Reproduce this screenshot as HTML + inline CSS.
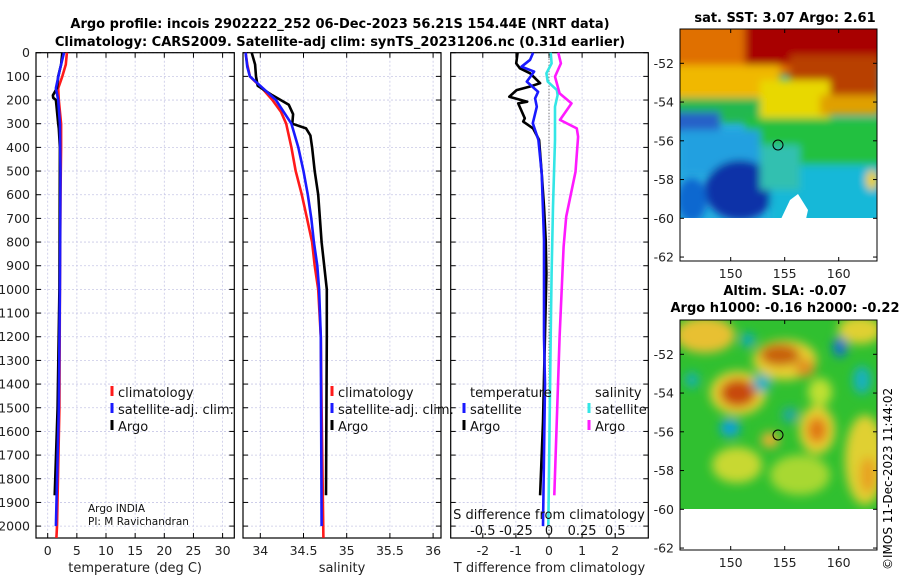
<!DOCTYPE html>
<html><head><meta charset="utf-8">
<style>
html,body{margin:0;padding:0;background:#fff;}
svg{display:block;font-family:"DejaVu Sans","Liberation Sans",sans-serif;}
</style></head>
<body>
<svg id="fig" width="900" height="580" viewBox="0 0 900 580" xmlns="http://www.w3.org/2000/svg">
<text x="340" y="28" font-size="13" font-weight="bold" text-anchor="middle">Argo profile: incois 2902222_252 06-Dec-2023 56.21S 154.44E (NRT data)</text>
<text x="340" y="46" font-size="13" font-weight="bold" text-anchor="middle">Climatology: CARS2009. Satellite-adj clim: synTS_20231206.nc (0.31d earlier)</text>
<g id="plots"></g>
<g id="maps">
 <text x="785" y="22" font-size="13" font-weight="bold" text-anchor="middle">sat. SST: 3.07 Argo: 2.61</text>
 <defs>
  <clipPath id="c1"><rect x="680" y="29" width="197" height="190"/></clipPath>
  <clipPath id="c2"><rect x="680" y="320" width="197" height="190"/></clipPath>
  <filter id="bl" x="-30%" y="-30%" width="160%" height="160%"><feGaussianBlur stdDeviation="5"/></filter>
  <filter id="bl2" x="-20%" y="-20%" width="140%" height="140%"><feGaussianBlur stdDeviation="4"/></filter>
 </defs>
 <g clip-path="url(#c1)">
  <rect x="680" y="29" width="197" height="190" fill="#28b0e0"/>
  <g filter="url(#bl2)">
   <rect x="670" y="20" width="210" height="55" fill="#e07000"/>
   <rect x="745" y="20" width="140" height="45" fill="#a80000"/>
   <rect x="790" y="55" width="90" height="45" fill="#b84000"/>
   <rect x="670" y="65" width="110" height="35" fill="#f0b800"/>
   <rect x="760" y="80" width="70" height="45" fill="#e8d800"/>
   <rect x="820" y="95" width="60" height="20" fill="#e0a000"/>
   <rect x="670" y="98" width="90" height="25" fill="#20b850"/>
   <rect x="745" y="118" width="140" height="50" fill="#22c040"/>
   <rect x="670" y="112" width="50" height="20" fill="#2860c8"/>
   <rect x="680" y="130" width="80" height="45" fill="#20a0e0"/>
   <ellipse cx="740" cy="190" rx="35" ry="30" fill="#0830a8"/>
   <ellipse cx="692" cy="200" rx="15" ry="22" fill="#1068d0"/>
   <rect x="770" y="165" width="110" height="60" fill="#18b8d8"/>
   <rect x="760" y="145" width="40" height="45" fill="#30c0b0"/>
   <ellipse cx="872" cy="180" rx="6" ry="10" fill="#f0d000"/>
  </g>
  <rect x="680" y="218" width="200" height="50" fill="#fff"/>
  <polygon points="781,219 790,200 798,194 808,210 806,219" fill="#fff"/>
  <circle cx="778" cy="145" r="5" fill="none" stroke="#000" stroke-width="1"/>
 </g>
 <rect x="680" y="29" width="197" height="232" fill="none" stroke="#000"/>
 <text x="785" y="295" font-size="13" font-weight="bold" text-anchor="middle">Altim. SLA: -0.07</text>
 <text x="785" y="312" font-size="13" font-weight="bold" text-anchor="middle">Argo h1000: -0.16 h2000: -0.22</text>
 <g clip-path="url(#c2)">
  <rect x="680" y="320" width="197" height="190" fill="#30c030"/>
  <g filter="url(#bl)">
   <ellipse cx="705" cy="335" rx="30" ry="18" fill="#e8c030"/>
   <ellipse cx="860" cy="330" rx="22" ry="14" fill="#e0d030"/>
   <ellipse cx="738" cy="393" rx="28" ry="22" fill="#e8d030"/>
   <ellipse cx="785" cy="360" rx="32" ry="20" fill="#e8d030"/>
   <ellipse cx="817" cy="430" rx="18" ry="24" fill="#e8d030"/>
   <ellipse cx="865" cy="460" rx="20" ry="45" fill="#e0d030"/>
   <ellipse cx="737" cy="465" rx="25" ry="18" fill="#c8d830"/>
   <ellipse cx="800" cy="475" rx="30" ry="20" fill="#a8d830"/>
   <ellipse cx="738" cy="393" rx="18" ry="14" fill="#c84810"/>
   <ellipse cx="780" cy="355" rx="20" ry="11" fill="#c86010"/>
   <ellipse cx="805" cy="368" rx="10" ry="9" fill="#e09020"/>
   <ellipse cx="817" cy="430" rx="10" ry="13" fill="#e07818"/>
   <ellipse cx="868" cy="475" rx="8" ry="18" fill="#e8a020"/>
   <ellipse cx="770" cy="440" rx="9" ry="8" fill="#e8b030"/>
   <ellipse cx="820" cy="392" rx="12" ry="14" fill="#c0e030"/>
   <ellipse cx="840" cy="347" rx="7" ry="10" fill="#1070d0"/>
   <ellipse cx="730" cy="428" rx="10" ry="9" fill="#10a0d8"/>
   <ellipse cx="762" cy="383" rx="9" ry="9" fill="#18b0c8"/>
   <ellipse cx="862" cy="380" rx="9" ry="14" fill="#18b0c0"/>
   <ellipse cx="692" cy="380" rx="7" ry="8" fill="#18b0b0"/>
   <ellipse cx="790" cy="415" rx="8" ry="8" fill="#20a8a0"/>
   <ellipse cx="748" cy="340" rx="7" ry="7" fill="#10a8c0"/>
  </g>
  <rect x="680" y="509" width="200" height="50" fill="#fff"/>
  <circle cx="778" cy="435" r="5" fill="none" stroke="#000" stroke-width="1"/>
 </g>
 <rect x="680" y="320" width="197" height="230" fill="none" stroke="#000"/>
 <text transform="translate(892,570) rotate(-90)" font-size="12">©IMOS 11-Dec-2023 11:44:02</text>
 <g id="mapaxes"></g>
</g>
</svg>
<script>
// depth levels & series values
const tDepth = [0,50,100,150,200,300,400,600,1000,1500,2000,2050];
const tClim = [3.3,3.1,2.5,1.8,1.9,2.3,2.3,2.2,2.1,2.0,1.6,1.5];
const satDepth = [0,80,150,200,300,500,1000,1500,2000];
const tSat = [2.8,2.0,1.4,1.8,2.1,2.2,2.1,1.9,1.4];
const argoDepth = [0,50,100,150,180,190,200,300,320,400,1000,1500,1870];
const tArgo = [2.5,2.3,1.8,1.6,0.9,0.95,1.4,1.8,1.9,2.1,2.0,1.7,1.2];

const sClimDepth = [0,50,100,150,200,250,300,400,500,600,700,800,900,1000,1200,1500,2050];
const sClim = [33.83,33.85,33.88,34.02,34.14,34.24,34.30,34.36,34.41,34.48,34.54,34.60,34.63,34.67,34.70,34.71,34.73];
const sSatDepth = [0,60,100,150,200,300,400,500,600,700,800,900,1000,1200,2000];
const sSat = [33.83,33.85,33.88,34.03,34.18,34.36,34.44,34.50,34.55,34.59,34.62,34.66,34.68,34.70,34.71];
const sArgoDepth = [0,50,100,140,180,220,260,300,320,350,400,500,600,700,800,900,1000,1200,1870];
const sArgo = [33.90,33.94,33.95,33.97,34.14,34.33,34.38,34.37,34.53,34.58,34.60,34.63,34.67,34.69,34.71,34.74,34.77,34.77,34.76];

const dTArgoDepth = [0,45,66,87,129,143,158,186,207,214,277,291,320,369,510,650,790,932,1560,1870];
const dTArgo = [-0.95,-0.99,-0.88,-0.57,-0.27,-0.57,-0.98,-1.2,-0.66,-0.93,-0.73,-0.78,-0.48,-0.30,-0.22,-0.15,-0.10,-0.08,-0.18,-0.27];
const dTSatDepth = [0,30,59,80,122,165,193,228,298,369,510,790,1200,1400,2000];
const dTSat = [-0.48,-0.57,-0.83,-0.45,-0.67,-0.33,-0.42,-0.37,-0.49,-0.32,-0.22,-0.15,-0.15,-0.12,-0.18];
const dSSatDepth = [0,45,87,122,158,179,228,369,650,932,1200,2000];
const dSSat = [0.013,0.02,-0.02,-0.01,0.06,0.065,0.045,0.045,0.03,0.02,0.013,-0.005];
const dSArgoDepth = [0,45,101,172,214,284,320,355,503,693,820,1200,1870];
const dSArgo = [0.07,0.09,0.045,0.08,0.17,0.083,0.21,0.22,0.20,0.13,0.11,0.08,0.04];

const depthTicks = [0,100,200,300,400,500,600,700,800,900,1000,1100,1200,1300,1400,1500,1600,1700,1800,1900,2000];
const tTicks = [0,5,10,15,20,25,30];
const sTicks = [34,34.5,35,35.5,36];
const dTTicks = [-2,-1,0,1,2];
const dSTicks = [-0.5,-0.25,0,0.25,0.5];
const dSTickLabels = ['-0.5','-0.25','0','0.25','0.5'];
const latTicks = [-52,-54,-56,-58,-60,-62];
const lonTicks = [150,155,160];

const NS='http://www.w3.org/2000/svg';
function mk(tag, attrs, parent){const e=document.createElementNS(NS,tag);for(const k in attrs)e.setAttribute(k,attrs[k]);(parent||document.getElementById('plots')).appendChild(e);return e;}
const Y0=52.7, YTOP=52.7, YBOT=538;
function yScale(d){return Y0 + d*0.2367;}
const P1={x0:36,x1:234.3,f:v=>47.7+5.83*v};
const P2={x0:243,x1:441,f:v=>260.3+86.4*(v-34)};
const P3={x0:450.7,x1:648.3,f:v=>549+33.1*v};
const fS3=v=>549+132.4*v;

function panel(P,name,ticks,xlabel,labels){
  const g=mk('g',{});
  
  
  depthTicks.forEach(d=>{const y=yScale(d);
    const l=mk('line',{x1:P.x0,x2:P.x1,y1:y,y2:y,stroke:'#c8c8e6','stroke-width':0.8,'stroke-dasharray':'2,2'},g);
    
    
    mk('line',{x1:P.x0,x2:P.x0+5,y1:y,y2:y,stroke:'#000'},g);
    mk('line',{x1:P.x1-5,x2:P.x1,y1:y,y2:y,stroke:'#000'},g);
  });
  ticks.forEach((t,i)=>{const x=P.f(t);
    mk('line',{x1:x,x2:x,y1:YTOP,y2:YBOT,stroke:'#c8c8e6','stroke-width':0.8,'stroke-dasharray':'2,2'},g);
    mk('line',{x1:x,x2:x,y1:YBOT-5,y2:YBOT,stroke:'#000'},g);
    mk('line',{x1:x,x2:x,y1:YTOP,y2:YTOP+5,stroke:'#000'},g);
    const tx=mk('text',{x:x,y:555,'font-size':12.5,'text-anchor':'middle',fill:'#222'},g);
    tx.textContent=labels?labels[i]:String(t);
    
    
  });
  mk('rect',{x:P.x0,y:YTOP,width:P.x1-P.x0,height:YBOT-YTOP,fill:'none',stroke:'#000','stroke-width':1.2},g);
  const xl=mk('text',{x:(P.x0+P.x1)/2,y:572,'font-size':13,'text-anchor':'middle',fill:'#222'},g);
  xl.textContent=xlabel;
  
  
  return g;
}
const g1=panel(P1,'temperature-panel',tTicks,'temperature (deg C)');
const g2=panel(P2,'salinity-panel',sTicks,'salinity');
const g3=panel(P3,'difference-panel',dTTicks,'T difference from climatology');
depthTicks.forEach(d=>{
  const t=mk('text',{x:30,y:yScale(d)+4.5,'font-size':12.5,'text-anchor':'end',fill:'#222'},g1);
  t.textContent=String(d);
  
  
});
const zl=mk('line',{x1:P3.f(0),x2:P3.f(0),y1:YTOP,y2:YBOT,stroke:'#555','stroke-width':1,'stroke-dasharray':'1,2'},g3);



function series(g,fx,vals,depths,color,name){
  const pts=vals.map((v,i)=>fx(v).toFixed(1)+','+yScale(depths[i]).toFixed(1)).join(' ');
  const p=mk('polyline',{points:pts,fill:'none',stroke:color,'stroke-width':2.6,'stroke-linejoin':'round'},g);
  
  
}
series(g1,P1.f,tClim,tDepth,'#ff1a1a','temp-climatology-line');
series(g1,P1.f,tArgo,argoDepth,'#000','temp-argo-line');
series(g1,P1.f,tSat,satDepth,'#1a1aff','temp-satellite-line');
series(g2,P2.f,sClim,sClimDepth,'#ff1a1a','sal-climatology-line');
series(g2,P2.f,sArgo,sArgoDepth,'#000','sal-argo-line');
series(g2,P2.f,sSat,sSatDepth,'#1a1aff','sal-satellite-line');
series(g3,P3.f,dTArgo,dTArgoDepth,'#000','dtemp-argo-line');
series(g3,P3.f,dTSat,dTSatDepth,'#1a1aff','dtemp-satellite-line');
series(g3,fS3,dSSat,dSSatDepth,'#33e6e6','dsal-satellite-line');
series(g3,fS3,dSArgo,dSArgoDepth,'#ff1aff','dsal-argo-line');

function legendEntry(g,x,y,color,label){
  const m=mk('line',{x1:x,x2:x,y1:y-11,y2:y-1,stroke:color,'stroke-width':3},g);
  
  
  const t=mk('text',{x:x+6,y:y,'font-size':13,fill:'#111'},g);
  t.textContent=label;
  
  
}
function txt(g,x,y,s,size,anchor,name){const t=mk('text',{x:x,y:y,'font-size':size,'text-anchor':anchor||'start',fill:'#111'},g);t.textContent=s;
  
  }
legendEntry(g1,112,397,'#ff1a1a','climatology');
legendEntry(g1,112,414,'#1a1aff','satellite-adj. clim.');
legendEntry(g1,112,431,'#000','Argo');
legendEntry(g2,332,397,'#ff1a1a','climatology');
legendEntry(g2,332,414,'#1a1aff','satellite-adj. clim.');
legendEntry(g2,332,431,'#000','Argo');
txt(g3,470,397,'temperature',13,'start','legend-title-temperature');
legendEntry(g3,464,414,'#1a1aff','satellite');
legendEntry(g3,464,431,'#000','Argo');
txt(g3,595,397,'salinity',13,'start','legend-title-salinity');
legendEntry(g3,589,414,'#33e6e6','satellite');
legendEntry(g3,589,431,'#ff1aff','Argo');
txt(g1,88,512,'Argo INDIA',10.5,'start','float-program-label');
txt(g1,88,525,'PI: M Ravichandran',10.5,'start','pi-label');
txt(g3,549,519,'S difference from climatology',13,'middle','s-axis-title');
dSTicks.forEach((t,i)=>txt(g3,fS3(t),535,dSTickLabels[i],13,'middle','s-tick-label'));

const ma=document.getElementById('mapaxes');
function mapAxes(top,bottom,name){
  latTicks.forEach(l=>{
    const yy=top+34.3+(-52-l)*19.375;
    mk('line',{x1:680,x2:684,y1:yy,y2:yy,stroke:'#000'},ma);
    mk('line',{x1:873,x2:877,y1:yy,y2:yy,stroke:'#000'},ma);
    const t=mk('text',{x:674,y:yy+4.5,'font-size':12.5,'text-anchor':'end',fill:'#222'},ma);
    t.textContent=String(l);
    
    
  });
  lonTicks.forEach(l=>{const x=730.7+(l-150)*10.8;
    mk('line',{x1:x,x2:x,y1:bottom-4,y2:bottom,stroke:'#000'},ma);
    mk('line',{x1:x,x2:x,y1:top,y2:top+4,stroke:'#000'},ma);
    const t=mk('text',{x:x,y:bottom+17,'font-size':12.5,'text-anchor':'middle',fill:'#222'},ma);
    t.textContent=String(l);
    
    
  });
}
mapAxes(29,261,'sst-map');
mapAxes(320,550,'sla-map');
</script>
</body></html>
